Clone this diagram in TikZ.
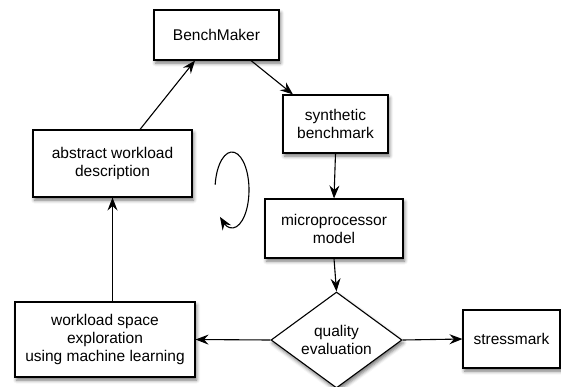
\documentclass[tikz,border=0pt]{standalone}
\usepackage{fontspec}
\setmainfont{Liberation Sans}
\usetikzlibrary{arrows.meta,bending,shapes.geometric,shadows.blur}
\begin{document}
\begin{tikzpicture}[x=1pt,y=-1pt,
  font=\fontsize{15.5}{18}\selectfont,
  line width=1.1pt,
  shade/.style={blur shadow={shadow xshift=1.5pt,shadow yshift=-3pt,shadow blur radius=3.5pt,shadow opacity=55}},
  procbox/.style={draw,fill=white,rectangle,align=center,inner sep=2pt,shade},
  decision/.style={draw,fill=white,diamond,align=center,inner sep=0pt,shade},
  flow/.style={-{Stealth[length=13pt,width=10pt,inset=4.5pt]}}]
\useasboundingbox (0,0) rectangle (561,386);
\node[procbox,minimum width=125pt,minimum height=50pt] (bm) at (216.5,35) {BenchMaker};
\node[procbox,minimum width=105pt,minimum height=58pt] (syn) at (335.5,124) {synthetic\\benchmark};
\node[procbox,minimum width=138pt,minimum height=59pt] (mp) at (334,228.5) {microprocessor\\model};
\node[procbox,minimum width=159pt,minimum height=67pt] (abs) at (112.5,163.5) {abstract workload\\description};
\node[decision,minimum width=131pt,minimum height=96pt,aspect=1.36] (qe) at (336.5,340) {quality\\evaluation};
\node[procbox,minimum width=97pt,minimum height=58pt] (sm) at (511.5,339) {stressmark};
\node[procbox,minimum width=180pt,minimum height=75pt] (ws) at (105,339.5) {workload space\\exploration\\using machine learning};
% feedback loop of the flow
\draw[flow] ([xshift=27.5pt]abs.north) -- ([xshift=-21.5pt]bm.south);
\draw[flow] ([xshift=34.5pt]bm.south) -- ([xshift=-42.5pt]syn.north);
\draw[flow] (syn.south) -- (mp.north);
\draw[flow] (mp.south) -- (qe.north);
\draw[flow] (qe.east) -- (sm.west);
\draw[flow] (qe.west) -- (ws.east);
\draw[flow] (ws.north -| abs.south) -- (abs.south);
% circular arrow marking the iteration
\coordinate (loop) at (232,190);
\draw[flow] ([shift={(188:17 and 38)}]loop) arc[start angle=188,end angle=495,x radius=17,y radius=38];
\end{tikzpicture}
\end{document}
